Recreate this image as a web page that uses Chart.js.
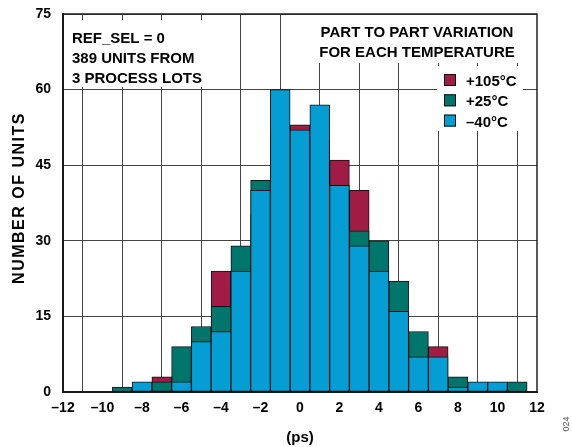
<!DOCTYPE html>
<html>
<head>
<meta charset="utf-8">
<script src="https://cdn.jsdelivr.net/npm/chart.js@4.4.0/dist/chart.umd.min.js"></script>
<style>
html, body { margin: 0; padding: 0; background: #fff; }
#wrap { width: 572px; height: 447px; position: relative; }
</style>
</head>
<body>
<div id="wrap"><canvas id="histChart"></canvas></div>
<script>
// bin centres (ps) and unit counts per temperature
const bins = [-9, -8, -7, -6, -5, -4, -3, -2, -1, 0, 1, 2, 3, 4, 5, 6, 7, 8, 9, 10, 11];
const units105 = [0, 0, 3, 3, 8, 24, 20, 35, 52, 53, 50, 46, 40, 25, 12, 6, 9, 1, 1, 1, 0];
const units25 = [1, 1, 2, 9, 13, 17, 29, 42, 52, 50, 40, 30, 32, 30, 22, 12, 2, 3, 0, 0, 2];
const unitsM40 = [0, 2, 0, 2, 10, 12, 24, 40, 60, 52, 57, 41, 29, 24, 16, 7, 7, 1, 2, 2, 0];
const seriesNames = ['+105°C', '+25°C', '\u201340°C'];
const seriesColors = ['#A01C44', '#00756C', '#049DD4'];
const noteLeft = ['REF_SEL = 0', '389 UNITS FROM', '3 PROCESS LOTS'];
const noteRight = ['PART TO PART VARIATION', 'FOR EACH TEMPERATURE'];
const yTitle = 'NUMBER OF UNITS';

Chart.defaults.font.family = "'Liberation Sans', Arial, sans-serif";
Chart.defaults.color = '#000';

function points(vals) {
  return bins.map((b, i) => ({ x: b, y: vals[i] }));
}

const boxes = {
  id: 'boxes',
  beforeDatasetsDraw(chart) {
    const c = chart.ctx;
    const a = chart.chartArea;
    c.save();
    c.fillStyle = '#fff';
    c.fillRect(64, 20, 152, 67);
    c.fillRect(302, 15, 232, 48);
    c.fillRect(437, 66, 86, 65);

    // frame
    c.strokeStyle = '#222';
    c.lineWidth = 1.5;
    c.strokeRect(a.left, a.top, a.right - a.left, a.bottom - a.top);

    c.fillStyle = '#000';
    c.font = "bold 15px 'Liberation Sans', Arial, sans-serif";
    c.textBaseline = 'alphabetic';
    c.textAlign = 'left';
    noteLeft.forEach((t, i) => c.fillText(t, 72, 43 + i * 20));
    c.textAlign = 'center';
    noteRight.forEach((t, i) => c.fillText(t, 417, 37 + i * 19.5));

    // legend
    c.textAlign = 'left';
    seriesNames.forEach((t, i) => {
      const y = 74 + i * 20.3;
      c.fillStyle = seriesColors[i];
      c.fillRect(444, y, 12, 12);
      c.strokeStyle = '#111';
      c.lineWidth = 1;
      c.strokeRect(444.5, y + 0.5, 11, 11);
      c.fillStyle = '#000';
      c.fillText(t, 466, y + 12);
    });
    c.restore();
  },
  afterDraw(chart) {
    const c = chart.ctx;
    c.save();
    c.translate(20, 198);
    c.rotate(-Math.PI / 2);
    c.fillStyle = '#000';
    c.font = "bold 16px 'Liberation Sans', Arial, sans-serif";
    c.letterSpacing = '1.5px';
    c.textAlign = 'center';
    c.textBaseline = 'middle';
    c.fillText(yTitle, 0, 0);
    c.restore();

    c.save();
    c.translate(567, 424);
    c.rotate(-Math.PI / 2);
    c.fillStyle = '#555';
    c.font = "9px 'Liberation Sans', Arial, sans-serif";
    c.textAlign = 'center';
    c.textBaseline = 'middle';
    c.fillText('024', 0, 0);
    c.restore();
  }
};

const barStyle = {
  grouped: false,
  barPercentage: 1,
  categoryPercentage: 1,
  borderWidth: 1,
  borderColor: '#111',
  borderSkipped: false
};

new Chart(document.getElementById('histChart').getContext('2d'), {
  type: 'bar',
  data: {
    datasets: [
      Object.assign({ label: seriesNames[0], data: points(units105), backgroundColor: seriesColors[0], order: 3 }, barStyle),
      Object.assign({ label: seriesNames[1], data: points(units25), backgroundColor: seriesColors[1], order: 2 }, barStyle),
      Object.assign({ label: seriesNames[2], data: points(unitsM40), backgroundColor: seriesColors[2], order: 1 }, barStyle)
    ]
  },
  options: {
    responsive: true,
    maintainAspectRatio: false,
    animation: false,
    layout: { padding: { top: 14, right: 35, left: 0, bottom: 0 } },
    plugins: {
      legend: { display: false },
      tooltip: { enabled: false }
    },
    scales: {
      x: {
        type: 'linear',
        min: -12,
        max: 12,
        offset: false,
        afterFit: (s) => { s.height = 55; s.paddingLeft = 0; s.paddingRight = 0; },
        ticks: {
          stepSize: 2,
          padding: 8,
          font: { size: 14, weight: 'bold' },
          callback: (v) => (v < 0 ? '\u2013' + Math.abs(v) : String(v))
        },
        grid: { color: '#444', lineWidth: 1, drawTicks: false },
        border: { color: '#000', width: 2 },
        title: {
          display: true,
          text: '(ps)',
          font: { size: 15, weight: 'bold' },
          padding: { top: 0, bottom: 0 }
        }
      },
      y: {
        min: 0,
        max: 75,
        afterFit: (s) => { s.width = 63; s.paddingTop = 0; s.paddingBottom = 0; },
        ticks: {
          stepSize: 15,
          padding: 12,
          font: { size: 14, weight: 'bold' }
        },
        grid: { color: '#444', lineWidth: 1, drawTicks: false },
        border: { color: '#000', width: 2 }
      }
    }
  },
  plugins: [boxes]
});
</script>
</body>
</html>
